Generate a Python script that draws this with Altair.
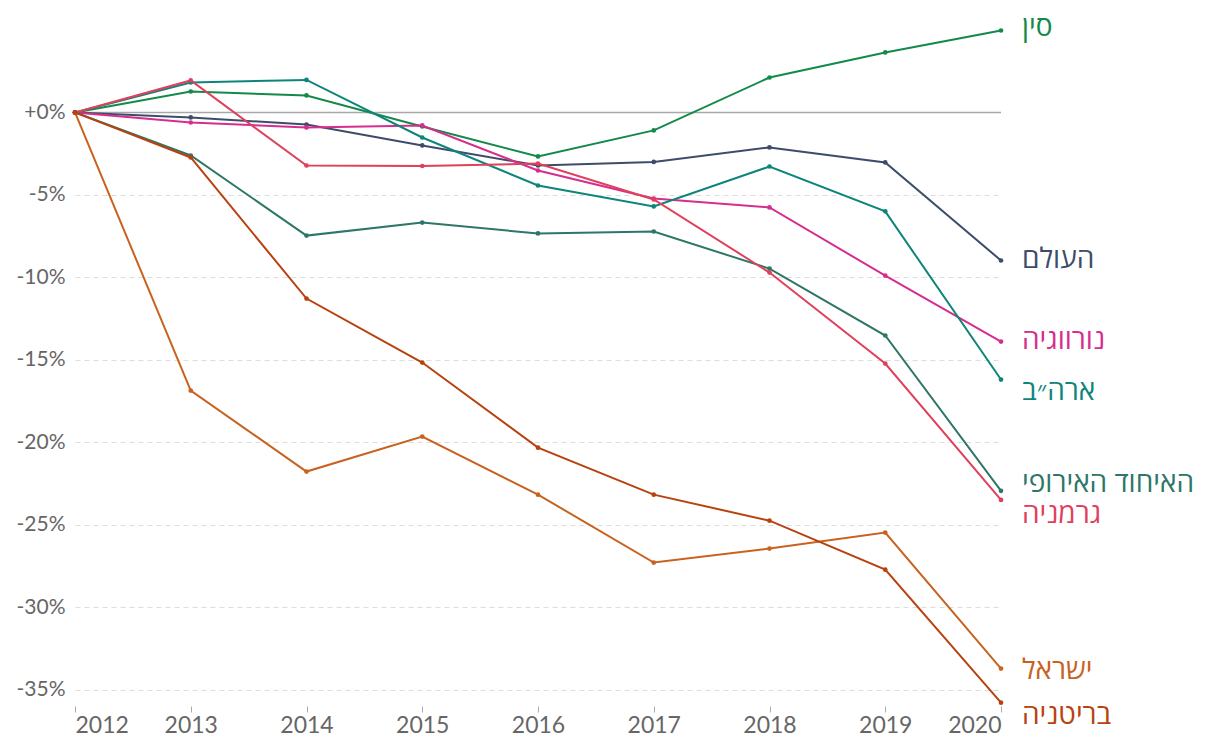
import altair as alt
import pandas as pd

years = [2012, 2013, 2014, 2015, 2016, 2017, 2018, 2019, 2020]

names = ["סין", "העולם", "נורווגיה", "ארה״ב", "האיחוד האירופי", "גרמניה", "ישראל", "בריטניה"]
labels_txt = ["סין", "העולם", "נורווגיה", "ארה״ב", "האיחוד האירופי", "גרמניה", "ישראל", "בריטניה"]

china = [0, 1.27, 1.03, -0.85, -2.67, -1.09, 2.12, 3.64, 4.97]
world = [0, -0.30, -0.73, -2.00, -3.22, -3.00, -2.12, -3.03, -8.98]
norway = [0, -0.61, -0.91, -0.79, -3.52, -5.22, -5.76, -9.90, -13.90]
usa = [0, 1.82, 1.97, -1.52, -4.43, -5.70, -3.28, -6.00, -16.20]
eu = [0, -2.61, -7.47, -6.68, -7.34, -7.22, -9.47, -13.53, -22.95]
germany = [0, 1.94, -3.22, -3.25, -3.10, -5.28, -9.71, -15.23, -23.50]
israel = [0, -16.87, -21.78, -19.66, -23.18, -27.30, -26.45, -25.48, -33.73]
uk = [0, -2.73, -11.29, -15.17, -20.33, -23.18, -24.76, -27.73, -35.80]

series = [china, world, norway, usa, eu, germany, israel, uk]
colors = ["#13894a", "#3d4c6a", "#d62d8e", "#0e857a", "#2e7667", "#e0405c", "#c8621e", "#b8420f"]
label_dy = [-2, 0, -1, 12, -7, 15, 2, 13]

rows = []
for n, vals in zip(names, series):
    for yr, v in zip(years, vals):
        rows.append({"country": n, "year": yr, "value": v})
df = pd.DataFrame(rows)

x_enc = alt.X(
    "year:Q",
    scale=alt.Scale(domain=[2012, 2020], nice=False, zero=False),
    axis=alt.Axis(
        values=years, format="d", title=None, grid=False, domain=False,
        ticks=True, tickColor="#aaaaaa", tickSize=6, labelFlush=True,
        labelFontSize=23, labelColor="#666666", labelPadding=2,
    ),
)
y_enc = alt.Y(
    "value:Q",
    scale=alt.Scale(domain=[-36, 5], nice=False, zero=False),
    axis=alt.Axis(
        values=[0, -5, -10, -15, -20, -25, -30, -35], title=None,
        labelExpr="datum.value == 0 ? '+0%' : datum.value + '%'",
        grid=True, gridDash=[5, 4], gridColor="#dddddd", gridWidth=1,
        domain=False, ticks=False, labelFontSize=21, labelColor="#666666",
        labelPadding=10,
    ),
)
color_enc = alt.Color("country:N", scale=alt.Scale(domain=names, range=colors), legend=None)

base = alt.Chart(df)
zero = alt.Chart(pd.DataFrame({"y": [0]})).mark_rule(color="#a8a8a8", strokeWidth=1.5).encode(y="y:Q")
lines = base.mark_line(strokeWidth=2).encode(x=x_enc, y=y_enc, color=color_enc, detail="country:N")
points = base.mark_circle(size=22, opacity=1).encode(x="year:Q", y="value:Q", color=color_enc)

layers = [zero, lines, points]
last = df[df.year == 2020]
for n, t, c, dy in zip(names, labels_txt, colors, label_dy):
    d = last[last.country == n].assign(label=t)
    layers.append(
        alt.Chart(d).mark_text(
            align="left", baseline="middle", dx=21, dy=dy, fontSize=28,
            font="Open Sans", color=c,
        ).encode(x="year:Q", y="value:Q", text="label:N")
    )

chart = alt.layer(*layers).properties(
    width=926, height=676,
    autosize=alt.AutoSizeParams(type="none"),
    padding={"left": 67, "top": 22, "right": 198, "bottom": 31},
).configure(font="Lato").configure_view(stroke=None)

chart.save("out.html", embed_options={"renderer": "svg", "actions": False})
